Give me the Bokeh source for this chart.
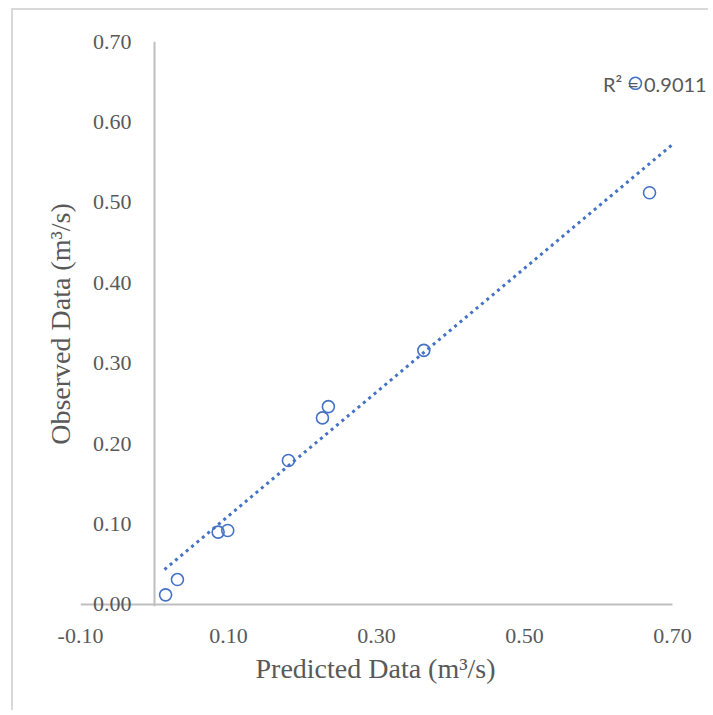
from bokeh.plotting import figure
from bokeh.models import Range1d, FixedTicker, Span, Label, NumeralTickFormatter, Title
from bokeh.embed import file_html
from bokeh.resources import INLINE

# data
predicted = [0.015, 0.031, 0.086, 0.099, 0.181, 0.227, 0.235, 0.364, 0.650, 0.669]
observed = [0.012, 0.031, 0.090, 0.092, 0.179, 0.232, 0.246, 0.316, 0.648, 0.512]
trend_x = [0.0135, 0.700]
trend_y = [0.0435, 0.572]
x_ticks = [-0.10, 0.10, 0.30, 0.50, 0.70]
y_ticks = [0.0, 0.1, 0.2, 0.3, 0.4, 0.5, 0.6, 0.7]
x_axis_span = [-0.10, 0.70]
x_axis_level = [0.0, 0.0]
r2_text = "R² = 0.9011"
x_title = "Predicted Data (m³/s)"
y_title = "Observed Data (m³/s)"

TXT = "#595959"
AX = "#bfbfbf"
BLUE = "#4472C4"

p = figure(width=697, height=702,
           x_range=Range1d(-0.1, 0.7514), y_range=Range1d(-0.0025, 0.7),
           output_backend="svg", toolbar_location=None,
           min_border_left=67, min_border_right=0,
           min_border_top=31, min_border_bottom=106)
p.styles = {"margin-left": "11px", "margin-top": "8px",
            "border-left": "2px solid #d9d9d9", "border-top": "2px solid #d9d9d9"}

p.grid.visible = False
p.outline_line_color = None

p.xaxis.ticker = FixedTicker(ticks=x_ticks)
p.yaxis.ticker = FixedTicker(ticks=y_ticks)
p.xaxis.formatter = NumeralTickFormatter(format="0.00")
p.yaxis.formatter = NumeralTickFormatter(format="0.00")

for ax in (p.xaxis[0], p.yaxis[0]):
    ax.major_tick_out = 0
    ax.major_tick_in = 0
    ax.minor_tick_out = 0
    ax.minor_tick_in = 0
    ax.axis_line_color = None
    ax.major_label_text_font = "Liberation Serif"
    ax.major_label_text_font_size = "22px"
    ax.major_label_text_color = TXT
    ax.axis_label_text_font = "Liberation Serif"
    ax.axis_label_text_font_size = "28px"
    ax.axis_label_text_font_style = "normal"
    ax.axis_label_text_color = TXT

p.xaxis.major_label_standoff = 22

p.yaxis.major_label_standoff = -51
p.yaxis.axis_label = y_title
p.yaxis.axis_label_standoff = 14

p.add_layout(Title(text=x_title, align="left", offset=175, standoff=10,
                   text_font="Liberation Serif", text_font_size="28px",
                   text_font_style="normal", text_color=TXT), "below")

# axis lines: horizontal axis over its range, vertical axis at x = 0
p.line(x_axis_span, x_axis_level, line_color=AX, line_width=2)
p.add_layout(Span(location=0, dimension="height", line_color=AX, line_width=2))

p.line(trend_x, trend_y, line_color=BLUE, line_width=3, line_dash="3 4")
p.scatter(predicted, observed, marker="circle", size=12, fill_color=None,
          line_color=BLUE, line_width=1.6)

p.add_layout(Label(x=0.606, y=0.647, text=r2_text, text_font="Lato",
                   text_font_size="20px", text_color=TXT, text_baseline="middle"))

open("out.html", "w").write(file_html(p, INLINE))
